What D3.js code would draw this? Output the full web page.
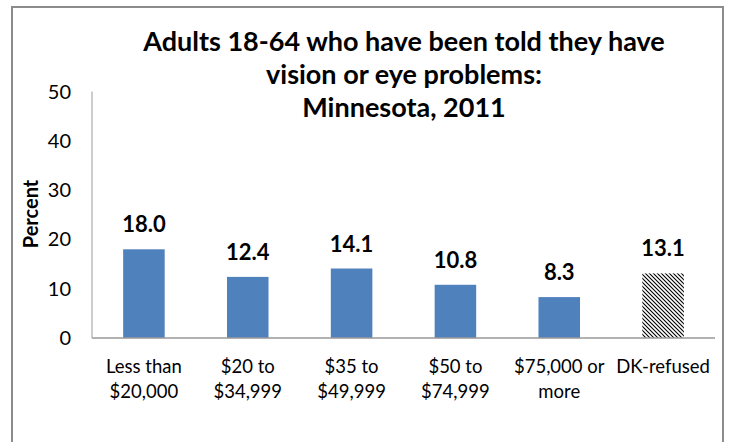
<!DOCTYPE html>
<meta charset="utf-8">
<head>
  <title>Vision or eye problems by income</title>
</head>

<style>
body { margin: 0; background: #fff; }
text { font-family: Lato, "Open Sans", sans-serif; fill: #000; }
</style>

<body>
  <svg id="chart" width="732" height="442"></svg>

  <script src="https://cdnjs.cloudflare.com/ajax/libs/d3/7.8.5/d3.min.js"></script>
  <script>
// data
var categories = [["Less than", "$20,000"], ["$20 to", "$34,999"], ["$35 to", "$49,999"],
                  ["$50 to", "$74,999"], ["$75,000 or", "more"], ["DK-refused"]]
var values = [18.0, 12.4, 14.1, 10.8, 8.3, 13.1]
var hatched = [false, false, false, false, false, true]
var yTicks = [0, 10, 20, 30, 40, 50]
var titleLines = ["Adults 18-64 who have been told they have", "vision or eye problems:", "Minnesota, 2011"]

var svg = d3.select('#chart')
// note: "top" is taken by window.top, so use plot* names
var plotLeft = 92, plotRight = 715, plotTop = 91.6, plotBottom = 338

// outer frame (bottom edge runs off the picture)
svg.append('rect')
  .attr('x', 12).attr('y', 7)
  .attr('width', 711).attr('height', 460)
  .attr('fill', 'none').attr('stroke', '#8c8c8c').attr('stroke-width', 2)

// hatch pattern for the DK-refused bar
var pat = svg.append('defs').append('pattern')
  .attr('id', 'hatch').attr('patternUnits', 'userSpaceOnUse')
  .attr('width', 4).attr('height', 4)
pat.append('path')
  .attr('d', 'M-1,-1 L5,5 M3,-1 L5,1 M-1,3 L1,5')
  .attr('stroke', '#000').attr('stroke-width', 1.1)

var x = d3.scaleBand()
  .domain(d3.range(values.length))
  .range([plotLeft, plotRight])
  .paddingInner(0.6)
  .paddingOuter(0.3)

var y = d3.scaleLinear().domain([0, 50]).range([plotBottom, plotTop])

// y axis: line and labels only
svg.append('line')
  .attr('x1', plotLeft).attr('x2', plotLeft)
  .attr('y1', y(50)).attr('y2', y(0))
  .attr('stroke', '#999').attr('stroke-width', 1)

svg.selectAll('.ytick')
  .data(yTicks)
  .enter().append('text')
  .attr('class', 'ytick')
  .attr('x', 71)
  .attr('y', function(d) { return y(d) })
  .attr('dy', '0.35em')
  .attr('text-anchor', 'end')
  .style('font-size', '20px')
  .text(function(d) { return d })

svg.append('text')
  .attr('transform', 'translate(38,214) rotate(-90)')
  .attr('text-anchor', 'middle')
  .style('font-size', '20px')
  .style('font-weight', 'bold')
  .text('Percent')

// bars
svg.selectAll('.bar')
  .data(values)
  .enter().append('rect')
  .attr('class', 'bar')
  .attr('x', function(d, i) { return x(i) })
  .attr('y', function(d) { return y(d) })
  .attr('width', x.bandwidth())
  .attr('height', function(d) { return y(0) - y(d) })
  .attr('fill', function(d, i) { return hatched[i] ? 'url(#hatch)' : '#4f81bd' })

// x axis line
svg.append('line')
  .attr('x1', plotLeft).attr('x2', plotRight)
  .attr('y1', y(0)).attr('y2', y(0))
  .attr('stroke', '#999').attr('stroke-width', 1.5)

// value labels
svg.selectAll('.val')
  .data(values)
  .enter().append('text')
  .attr('class', 'val')
  .attr('x', function(d, i) { return x(i) + x.bandwidth() / 2 })
  .attr('y', function(d) { return y(d) - 17 })
  .attr('text-anchor', 'middle')
  .style('font-size', '22px')
  .style('font-weight', 'bold')
  .text(function(d) { return d.toFixed(1) })

// category labels
var cat = svg.selectAll('.cat')
  .data(categories)
  .enter().append('text')
  .attr('class', 'cat')
  .attr('text-anchor', 'middle')
  .style('font-size', '18.5px')
cat.selectAll('tspan')
  .data(function(d, i) { return d.map(function(s) { return {s: s, i: i} }) })
  .enter().append('tspan')
  .attr('x', function(d) { return x(d.i) + x.bandwidth() / 2 })
  .attr('y', function(d, j) { return 373 + j * 25 })
  .text(function(d) { return d.s })

// title
svg.selectAll('.title')
  .data(titleLines)
  .enter().append('text')
  .attr('class', 'title')
  .attr('x', 404)
  .attr('y', function(d, i) { return 51 + i * 33 })
  .attr('text-anchor', 'middle')
  .style('font-size', '27px')
  .style('font-weight', 'bold')
  .text(function(d) { return d })
  </script>
</body>
</html>
